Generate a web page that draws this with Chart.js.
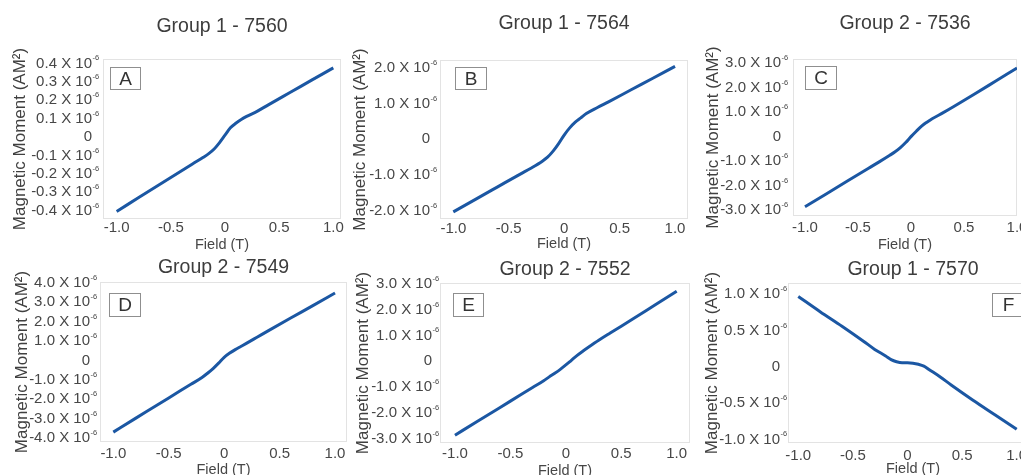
<!DOCTYPE html>
<html>
<head>
<meta charset="utf-8">
<script src="https://cdn.jsdelivr.net/npm/chart.js@4.4.1/dist/chart.umd.min.js"></script>
<style>
  html, body { margin: 0; padding: 0; background: #fff; }
  body { position: relative; width: 1021px; height: 475px; overflow: hidden; }
  canvas { position: absolute; }
</style>
</head>
<body>
<script>
// Applied field (T) for every sweep
const fieldT = [-1.0, -0.8, -0.6, -0.4, -0.3, -0.2, -0.15, -0.1, -0.05, 0, 0.05, 0.1, 0.15, 0.2, 0.3, 0.4, 0.6, 0.8, 1.0];

// Magnetic moment of each sample, in units of 10^-6 A·m²
const moment7560 = [-0.404, -0.330, -0.256, -0.183, -0.146, -0.110, -0.090, -0.065, -0.030, 0.010, 0.050, 0.075, 0.095, 0.112, 0.141, 0.175, 0.242, 0.309, 0.376];
const moment7564 = [-2.03, -1.68, -1.33, -0.98, -0.81, -0.62, -0.50, -0.33, -0.12, 0.12, 0.32, 0.48, 0.60, 0.72, 0.89, 1.05, 1.38, 1.71, 2.04];
const moment7536 = [-2.86, -2.34, -1.81, -1.29, -1.03, -0.76, -0.62, -0.45, -0.24, 0.00, 0.22, 0.43, 0.59, 0.73, 0.97, 1.22, 1.74, 2.27, 2.80];
const moment7549 = [-3.70, -2.99, -2.29, -1.58, -1.23, -0.88, -0.66, -0.42, -0.14, 0.16, 0.38, 0.56, 0.72, 0.88, 1.21, 1.54, 2.19, 2.83, 3.48];
const moment7552 = [-2.85, -2.32, -1.80, -1.27, -1.01, -0.75, -0.60, -0.46, -0.31, -0.14, 0.04, 0.22, 0.38, 0.53, 0.82, 1.09, 1.62, 2.16, 2.70];
const moment7570 = [0.97, 0.76, 0.56, 0.35, 0.24, 0.15, 0.10, 0.07, 0.055, 0.055, 0.05, 0.035, 0.01, -0.04, -0.14, -0.25, -0.46, -0.66, -0.86];

// Tick values
const fieldTicks = [-1.0, -0.5, 0, 0.5, 1.0];
const momentTicks7560 = [-0.4, -0.3, -0.2, -0.1, 0, 0.1, 0.2, 0.3, 0.4];
const momentTicks7564 = [-2, -1, 0, 1, 2];
const momentTicks7536 = [-3, -2, -1, 0, 1, 2, 3];
const momentTicks7549 = [-4, -3, -2, -1, 0, 1, 2, 3, 4];
const momentTicks7552 = [-3, -2, -1, 0, 1, 2, 3];
const momentTicks7570 = [-1, -0.5, 0, 0.5, 1];

// Panel titles and letters
const panelTitles = ['Group 1 - 7560', 'Group 1 - 7564', 'Group 2 - 7536', 'Group 2 - 7549', 'Group 2 - 7552', 'Group 1 - 7570'];
const panelLetters = ['A', 'B', 'C', 'D', 'E', 'F'];
const panelMoments = [moment7560, moment7564, moment7536, moment7549, moment7552, moment7570];
const panelTicks = [momentTicks7560, momentTicks7564, momentTicks7536, momentTicks7549, momentTicks7552, momentTicks7570];

// Placement of each small chart on the page
const panelLayout = [
  { left: 0,   top: 0,   width: 361, height: 254, padRight: 20, yW: 103, xH: 35, xMin: -1.126, xMax: 1.071, yMin: -0.445, yMax: 0.424, tTop: 15.0, tBot: 20.6, yTitlePad: 9.8,  xTickPad: 0, yTickPad: 11, box: { x: 7,   y: 8,  w: 30, h: 22 } },
  { left: 341, top: 0,   width: 367, height: 253, padRight: 20, yW: 99,  xH: 34, xMin: -1.120, xMax: 1.117, yMin: -2.23,  yMax: 2.22,  tTop: 12.0, tBot: 24.6, yTitlePad: 8.8,  xTickPad: 1, yTickPad: 10, box: { x: 15,  y: 7,  w: 31, h: 22 } },
  { left: 688, top: 0,   width: 353, height: 254, padRight: 24, yW: 105, xH: 38, xMin: -1.113, xMax: 1.0,   yMin: -3.24,  yMax: 3.17,  tTop: 12.0, tBot: 23.6, yTitlePad: 14.8, xTickPad: 3, yTickPad: 12, box: { x: 12,  y: 7,  w: 31, h: 23 } },
  { left: 0,   top: 248, width: 367, height: 231, padRight: 20, yW: 100, xH: 37, xMin: -1.120, xMax: 1.108, yMin: -4.21,  yMax: 4.05,  tTop: 8.0,  tBot: 2.6,  yTitlePad: 11.8, xTickPad: 3, yTickPad: 10, box: { x: 9,   y: 11, w: 31, h: 23 } },
  { left: 347, top: 248, width: 363, height: 232, padRight: 20, yW: 93,  xH: 37, xMin: -1.135, xMax: 1.120, yMin: -3.15,  yMax: 3.02,  tTop: 10.0, tBot: 1.6,  yTitlePad: 5.8,  xTickPad: 2, yTickPad: 8,  box: { x: 13,  y: 10, w: 30, h: 23 } },
  { left: 690, top: 248, width: 370, height: 230, padRight: 22, yW: 98,  xH: 35, xMin: -1.094, xMax: 1.195, yMin: -1.05,  yMax: 1.155, tTop: 10.0, tBot: 1.6,  yTitlePad: 11.8, xTickPad: 4, yTickPad: 8,  box: { x: 204, y: 10, w: 32, h: 23 } }
];

const FONT = "'Liberation Sans', Arial, Helvetica, sans-serif";
const TEXT = '#474747';
Chart.defaults.font.family = FONT;
Chart.defaults.color = TEXT;

function fieldLabel(v) {
  return v === 0 ? '0' : v.toFixed(1);
}
// Mantissa and base; the exponent is set as a small superscript after it
function momentLabel(v) {
  return v === 0 ? '0' : v.toFixed(1) + ' X 10';
}

// Faint frame round the plot area, exponent superscripts on the y ticks,
// and the boxed panel letter
const panelDecor = {
  id: 'panelDecor',
  beforeDatasetsDraw(chart) {
    const { ctx, chartArea: a } = chart;
    ctx.save();
    ctx.strokeStyle = '#e3e3e3';
    ctx.lineWidth = 1;
    ctx.strokeRect(Math.round(a.left) + 0.5, Math.round(a.top) + 0.5, Math.round(a.right - a.left) - 1, Math.round(a.bottom - a.top) - 1);
    ctx.restore();
  },
  afterDatasetsDraw(chart, args, opts) {
    const { ctx, chartArea: a } = chart;
    const ys = chart.scales.y;
    ctx.save();
    // exponent of the y tick labels
    ctx.fillStyle = TEXT;
    ctx.font = '7.5px ' + FONT;
    ctx.textAlign = 'left';
    ctx.textBaseline = 'middle';
    const xs = ys.right - ys.options.ticks.padding + 0.5;
    ys.ticks.forEach(t => {
      if (t.value !== 0) ctx.fillText('-6', xs, ys.getPixelForValue(t.value) - 5);
    });
    // panel letter box
    const b = opts.box;
    const x = Math.round(a.left + b.x) + 0.5;
    const y = Math.round(a.top + b.y) + 0.5;
    ctx.fillStyle = '#ffffff';
    ctx.fillRect(x, y, b.w, b.h);
    ctx.strokeStyle = '#8f8f8f';
    ctx.lineWidth = 1;
    ctx.strokeRect(x, y, b.w, b.h);
    ctx.fillStyle = '#333333';
    ctx.font = '19px ' + FONT;
    ctx.textAlign = 'center';
    ctx.textBaseline = 'middle';
    ctx.fillText(opts.letter, x + b.w / 2, y + b.h / 2 + 1);
    ctx.restore();
  }
};

panelLayout.forEach((L, i) => {
  const cv = document.createElement('canvas');
  cv.width = L.width;
  cv.height = L.height;
  cv.style.left = L.left + 'px';
  cv.style.top = L.top + 'px';
  cv.style.width = L.width + 'px';
  cv.style.height = L.height + 'px';
  document.body.appendChild(cv);

  const moments = panelMoments[i];
  const yTicks = panelTicks[i];

  new Chart(cv, {
    type: 'line',
    data: {
      datasets: [{
        data: fieldT.map((x, k) => ({ x: x, y: moments[k] })),
        borderColor: '#1b57a3',
        borderWidth: 3,
        pointRadius: 0,
        fill: false,
        cubicInterpolationMode: 'monotone'
      }]
    },
    options: {
      responsive: false,
      animation: false,
      devicePixelRatio: 1,
      layout: { autoPadding: false, padding: { left: 0, top: 0, right: L.padRight, bottom: 0 } },
      plugins: {
        legend: { display: false },
        tooltip: { enabled: false },
        title: {
          display: true,
          text: panelTitles[i],
          fullSize: false,
          color: '#3d3d3d',
          font: { size: 19.5, weight: 'normal' },
          padding: { top: L.tTop, bottom: L.tBot }
        },
        panelDecor: { letter: panelLetters[i], box: L.box }
      },
      scales: {
        x: {
          type: 'linear',
          min: L.xMin,
          max: L.xMax,
          afterBuildTicks: s => { s.ticks = fieldTicks.map(v => ({ value: v })); },
          afterFit: s => { s.height = L.xH; s.paddingLeft = 0; s.paddingRight = 0; },
          grid: { display: false, drawTicks: false },
          border: { display: false },
          ticks: {
            autoSkip: false, maxRotation: 0, padding: L.xTickPad,
            color: TEXT, font: { size: 15 },
            callback: v => fieldLabel(v)
          },
          title: {
            display: true, text: 'Field (T)', color: TEXT,
            font: { size: 14.5 }, padding: { top: 0, bottom: 0 }
          }
        },
        y: {
          type: 'linear',
          min: L.yMin,
          max: L.yMax,
          afterBuildTicks: s => { s.ticks = yTicks.map(v => ({ value: v })); },
          afterFit: s => { s.width = L.yW; s.paddingTop = 0; s.paddingBottom = 0; },
          grid: { display: false, drawTicks: false },
          border: { display: false },
          ticks: {
            autoSkip: false, padding: L.yTickPad,
            color: TEXT, font: { size: 15 },
            callback: v => momentLabel(v)
          },
          title: {
            display: true, text: 'Magnetic Moment (AM\u00B2)', color: '#404040',
            font: { size: 17 }, padding: { top: L.yTitlePad, bottom: 0 }
          }
        }
      }
    },
    plugins: [panelDecor]
  });
});
</script>
</body>
</html>
